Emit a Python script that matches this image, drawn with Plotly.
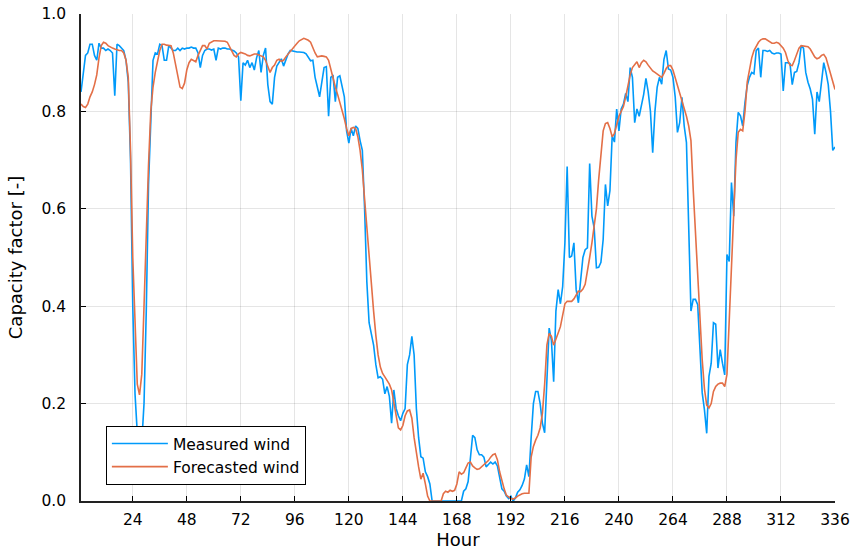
import plotly.graph_objects as go

hours = list(range(1, 337))

measured = [
    0.84, 0.88, 0.915, 0.92, 0.938, 0.938, 0.915, 0.905, 0.94, 0.93,
    0.93, 0.925, 0.928, 0.925, 0.92, 0.832, 0.938, 0.935, 0.93, 0.925,
    0.905, 0.86, 0.7, 0.4, 0.22, 0.14, 0.1, 0.12, 0.2, 0.39,
    0.65, 0.8, 0.905, 0.92, 0.918, 0.938, 0.935, 0.905, 0.905, 0.935,
    0.93, 0.925, 0.925, 0.93, 0.925, 0.93, 0.928, 0.93, 0.93, 0.932,
    0.93, 0.93, 0.92, 0.89, 0.915, 0.925, 0.928, 0.928, 0.926, 0.928,
    0.905, 0.93, 0.928, 0.93, 0.93, 0.928, 0.928, 0.926, 0.924, 0.92,
    0.912, 0.822, 0.9, 0.895, 0.905, 0.89, 0.9, 0.885, 0.91, 0.925,
    0.88, 0.915, 0.93, 0.855, 0.82, 0.815, 0.87, 0.893, 0.9, 0.908,
    0.893, 0.905, 0.918, 0.925, 0.924, 0.922, 0.922, 0.922, 0.922, 0.921,
    0.918, 0.91, 0.904, 0.905, 0.87, 0.85, 0.83, 0.86, 0.89, 0.892,
    0.79, 0.87, 0.873, 0.82, 0.87, 0.873, 0.85, 0.83, 0.76, 0.735,
    0.765, 0.75, 0.77, 0.765, 0.74, 0.72, 0.6, 0.45, 0.366, 0.345,
    0.32, 0.28, 0.253, 0.255, 0.25, 0.22, 0.235, 0.215, 0.16, 0.228,
    0.19, 0.175, 0.165, 0.18, 0.19, 0.28, 0.3, 0.338, 0.3, 0.19,
    0.13, 0.091, 0.088, 0.06, 0.05, 0.035, 0.0, 0.0, 0.0, 0.0,
    0.0, 0.0, 0.0, 0.0, 0.0, 0.0, 0.0, 0.0, 0.0, 0.0,
    0.02, 0.025, 0.04, 0.09, 0.135, 0.13, 0.105, 0.095, 0.095, 0.09,
    0.07, 0.075, 0.08, 0.076, 0.08, 0.072, 0.05, 0.025, 0.02, 0.01,
    0.005, 0.01, 0.0, 0.006, 0.018, 0.023, 0.032, 0.045, 0.074, 0.05,
    0.13, 0.2, 0.225, 0.225, 0.2, 0.16, 0.14, 0.25, 0.355, 0.33,
    0.245, 0.39, 0.434, 0.405, 0.44, 0.53, 0.687, 0.5, 0.503, 0.53,
    0.434, 0.407, 0.462, 0.5, 0.516, 0.52, 0.693, 0.585, 0.561, 0.479,
    0.48, 0.49, 0.537, 0.65, 0.606, 0.637, 0.75, 0.737, 0.805, 0.76,
    0.805, 0.815, 0.837, 0.82, 0.89, 0.87, 0.777, 0.805, 0.79, 0.81,
    0.835, 0.868, 0.84, 0.8, 0.715, 0.8, 0.85, 0.87, 0.856, 0.907,
    0.925, 0.887, 0.885, 0.87, 0.83, 0.757, 0.777, 0.829, 0.77, 0.736,
    0.585, 0.39, 0.414, 0.414, 0.403, 0.311, 0.222, 0.187, 0.139, 0.256,
    0.283, 0.366, 0.363, 0.273, 0.311, 0.283, 0.259, 0.506, 0.492, 0.654,
    0.585, 0.736, 0.798, 0.791, 0.77, 0.818, 0.853, 0.87, 0.88, 0.877,
    0.925, 0.93, 0.87, 0.925, 0.925, 0.923, 0.925, 0.92, 0.918, 0.92,
    0.92, 0.918, 0.842, 0.9, 0.9, 0.898, 0.855, 0.88, 0.882, 0.9,
    0.935, 0.93, 0.88, 0.86, 0.846, 0.825, 0.753, 0.84, 0.82, 0.86,
    0.9, 0.88, 0.855, 0.8, 0.72, 0.727,
]

forecast = [
    0.815, 0.81, 0.808, 0.815, 0.83, 0.84, 0.855, 0.875, 0.91, 0.935,
    0.942, 0.94, 0.935, 0.932, 0.93, 0.928, 0.926, 0.925, 0.925, 0.92,
    0.905, 0.87, 0.72, 0.5, 0.37, 0.24, 0.218, 0.26, 0.4, 0.56,
    0.69, 0.8, 0.85, 0.88, 0.905, 0.925, 0.938, 0.938, 0.936, 0.936,
    0.935, 0.92, 0.895, 0.875, 0.85, 0.847, 0.858, 0.885, 0.9, 0.907,
    0.905, 0.902, 0.915, 0.925, 0.935, 0.935, 0.928, 0.94, 0.943, 0.945,
    0.945, 0.945, 0.945, 0.945, 0.944, 0.942, 0.932, 0.922, 0.915, 0.912,
    0.918, 0.921, 0.92, 0.918, 0.915, 0.914, 0.916, 0.918, 0.918, 0.916,
    0.915, 0.912, 0.905, 0.89, 0.88, 0.89, 0.895, 0.905, 0.907, 0.903,
    0.905, 0.912, 0.918, 0.924, 0.93, 0.935, 0.94, 0.945, 0.948, 0.95,
    0.948, 0.946, 0.942, 0.93, 0.92, 0.912, 0.913, 0.914, 0.913, 0.912,
    0.905, 0.885, 0.87, 0.85, 0.835, 0.82, 0.8, 0.785, 0.765, 0.75,
    0.765, 0.767, 0.765, 0.748, 0.72, 0.68, 0.62, 0.56, 0.5, 0.45,
    0.39, 0.34, 0.3, 0.275, 0.262, 0.255, 0.248, 0.24, 0.228, 0.2,
    0.17, 0.15, 0.146, 0.155, 0.175, 0.185, 0.187, 0.17, 0.13, 0.095,
    0.07, 0.045, 0.057, 0.035, 0.01, 0.0, 0.0, 0.0, 0.0, 0.0,
    0.0, 0.015, 0.02, 0.018, 0.022, 0.02, 0.022, 0.035, 0.06, 0.055,
    0.058, 0.068, 0.078, 0.08, 0.072, 0.068, 0.065, 0.066, 0.07, 0.074,
    0.078, 0.083, 0.09, 0.095, 0.097, 0.085, 0.06, 0.04, 0.025, 0.012,
    0.008, 0.005, 0.004, 0.006, 0.01, 0.013, 0.015, 0.016, 0.016, 0.016,
    0.09, 0.112, 0.125, 0.135, 0.15, 0.18, 0.24, 0.32, 0.344, 0.338,
    0.32, 0.335, 0.345, 0.358, 0.385, 0.405, 0.41, 0.41, 0.41, 0.415,
    0.424, 0.431, 0.43, 0.435, 0.445, 0.47, 0.5, 0.53, 0.56, 0.6,
    0.66, 0.72, 0.76, 0.775, 0.777, 0.765, 0.748, 0.755, 0.775, 0.79,
    0.8, 0.81, 0.83, 0.855, 0.875, 0.89, 0.896, 0.902, 0.89, 0.9,
    0.905, 0.902, 0.895, 0.888, 0.883, 0.88, 0.877, 0.873, 0.87, 0.878,
    0.888, 0.894, 0.894, 0.885, 0.87, 0.855, 0.84, 0.825, 0.81, 0.79,
    0.77, 0.74, 0.64, 0.55, 0.46, 0.37, 0.29, 0.23, 0.197, 0.191,
    0.2, 0.225, 0.235, 0.24, 0.242, 0.242, 0.235, 0.26, 0.37, 0.49,
    0.6, 0.7, 0.757, 0.763, 0.76, 0.8, 0.86, 0.885, 0.91, 0.925,
    0.935, 0.942, 0.947, 0.949, 0.949, 0.946, 0.942, 0.94, 0.94, 0.942,
    0.94, 0.935, 0.93, 0.921, 0.905, 0.895, 0.894, 0.905, 0.918, 0.93,
    0.935, 0.934, 0.934, 0.933, 0.928, 0.92, 0.912, 0.908, 0.91, 0.915,
    0.917, 0.91, 0.895, 0.88, 0.862, 0.845,
]

x_ticks = [24, 48, 72, 96, 120, 144, 168, 192, 216, 240, 264, 288, 312, 336]
y_ticks = [0.0, 0.2, 0.4, 0.6, 0.8, 1.0]

FONT = "DejaVu Sans"

fig = go.Figure()
fig.add_trace(go.Scatter(x=hours, y=measured, mode="lines", name="Measured wind",
                         line=dict(color="#009AFA", width=1.6)))
fig.add_trace(go.Scatter(x=hours, y=forecast, mode="lines", name="Forecasted wind",
                         line=dict(color="#E36F47", width=1.6)))

fig.update_layout(
    width=852, height=552,
    margin=dict(l=81, r=17, t=14, b=51),
    paper_bgcolor="white", plot_bgcolor="white",
    font=dict(family=FONT, size=15, color="black"),
    showlegend=True,
    legend=dict(x=0.033, y=0.033, xanchor="left", yanchor="bottom",
                bgcolor="white", bordercolor="black", borderwidth=1,
                font=dict(family=FONT, size=15.5, color="black"),
                itemwidth=56, tracegroupgap=0),
    hovermode=False,
)
fig.update_xaxes(
    range=[1, 336], tickmode="array", tickvals=x_ticks,
    ticktext=[str(t) for t in x_ticks],
    ticks="inside", ticklen=5, tickcolor="black", tickwidth=1,
    showline=True, linecolor="#222222", linewidth=1.5, mirror=False,
    showgrid=True, gridcolor="rgba(0,0,0,0.1)", gridwidth=1,
    zeroline=False, automargin=False, ticklabelstandoff=4,
    title=dict(text="Hour", font=dict(family=FONT, size=18), standoff=4),
    tickfont=dict(family=FONT, size=15.5),
)
fig.update_yaxes(
    range=[0, 1], tickmode="array", tickvals=y_ticks,
    ticktext=[f"{t:.1f}" for t in y_ticks],
    ticks="inside", ticklen=5, tickcolor="black", tickwidth=1,
    showline=True, linecolor="#222222", linewidth=1.5, mirror=False,
    showgrid=True, gridcolor="rgba(0,0,0,0.1)", gridwidth=1,
    zeroline=False, automargin=False, ticklabelstandoff=10,
    title=dict(text="Capacity factor [-]", font=dict(family=FONT, size=18), standoff=14),
    tickfont=dict(family=FONT, size=15.5),
)

fig.write_html("out.html")
